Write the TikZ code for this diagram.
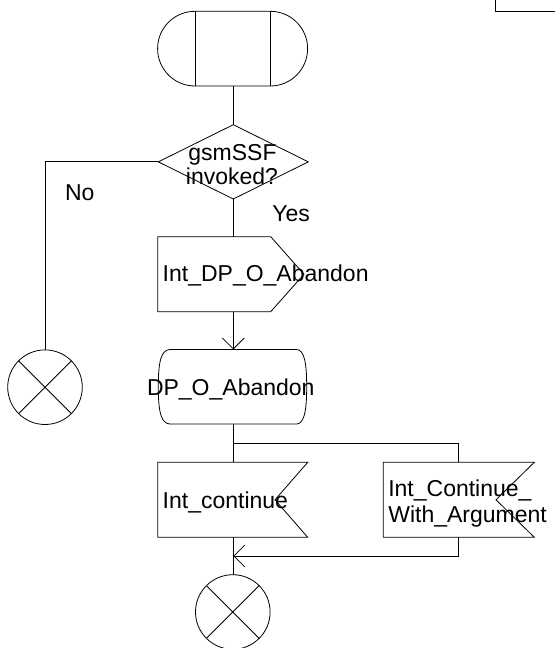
\documentclass[tikz,border=0pt]{standalone}
\usepackage{fontspec}
\setmainfont{Liberation Sans}
\usetikzlibrary{arrows.meta}
\begin{document}
\begin{tikzpicture}[x=1pt,y=-1pt,line width=0.8pt,
  lbl/.style={font=\fontsize{23}{26}\selectfont,inner sep=0pt,outer sep=0pt,anchor=base west},
  clbl/.style={lbl,anchor=base},
  frame/.style={inner sep=0pt,outer sep=0pt,draw=none,minimum width=#1},
  endsym/.style={circle,draw,inner sep=0pt,outer sep=0pt,minimum size=74.6pt},
  vhead/.style={-{Straight Barb[length=11pt,width=22pt]}}]
\useasboundingbox (0,0) rectangle (555,648);

% page corner fragment
\draw (495.7,0) -- (495.7,11.3) -- (555,11.3);

% start symbol
\node[draw,rectangle,rounded corners=37.3pt,inner sep=0pt,outer sep=0pt,
      minimum width=150pt,minimum height=74.7pt] (start) at (232.6,48.65) {};
\draw (195.3,11.3) -- (195.3,86) (270,11.3) -- (270,86);

% decision
\node[frame=150pt,minimum height=74.3pt] (dec) at (233.3,161.85) {};
\draw (dec.west) -- (dec.north) -- (dec.east) -- (dec.south) -- cycle;
\node[clbl] (q1) at (232.5,160) {gsmSSF};
\node[clbl] (q2) at (232,184) {invoked?};
\node[lbl] (no) at (65,200) {No};
\node[lbl] (yes) at (272.3,221) {Yes};

% output signal
\node[frame=146.3pt,minimum height=75pt] (out) at (230.85,274.2) {};
\draw (out.north west) -- (270.7,236.7) -- (out.east) -- (270.7,311.7) -- (out.south west) -- cycle;
\node[lbl] (tout) at (162.7,281.7) {Int\_DP\_O\_Abandon};

% DP_O_Abandon
\node[frame=148.4pt,minimum height=74.5pt] (dp) at (232.5,386.75) {};
\draw (170,349.5) -- (296.7,349.5)
  .. controls (303.5,350) and (306.7,360) .. (306.7,386.75)
  .. controls (306.7,413.5) and (303.5,423.5) .. (296.7,424)
  -- (170,424)
  .. controls (161.5,423.5) and (158.3,413.5) .. (158.3,386.75)
  .. controls (158.3,360) and (161.5,350) .. (170,349.5) -- cycle;
\node[lbl] (tdp) at (147,395) {DP\_O\_Abandon};

% inputs
\node[frame=150pt,minimum height=75pt] (ic) at (232.7,499.8) {};
\draw (ic.north west) -- (ic.north east) -- (275,499.8) -- (ic.south east) -- (ic.south west) -- cycle;
\node[lbl] (tic) at (162.7,508.3) {Int\_continue};

\node[frame=151pt,minimum height=75pt] (icw) at (458.8,499.8) {};
\draw (icw.north west) -- (icw.north east) -- (496,499.8) -- (icw.south east) -- (icw.south west) -- cycle;
\node[lbl] (ticw1) at (388.3,496.7) {Int\_Continue\_};
\node[lbl] (ticw2) at (388.3,522.7) {With\_Argument};

% ends
\node[endsym] (end1) at (45,387.2) {};
\draw (end1.north west) -- (end1.south east) (end1.north east) -- (end1.south west);
\node[endsym] (end2) at (232.8,612) {};
\draw (end2.north west) -- (end2.south east) (end2.north east) -- (end2.south west);

% connectors
\coordinate (ax) at (233.3,0);
\draw (start.south -| ax) -- (dec.north);
\draw (dec.west) -| (end1.north);
\draw (dec.south) -- (dec.south |- out.north);
\draw[vhead] (dec.south |- out.south) -- (dp.north -| ax);
\coordinate (br) at (233.3,443.3);
\draw (dp.south -| ax) -- (ic.north -| ax);
\draw (br) -| (icw.north);
\draw (ic.south -| ax) -- (end2.north -| ax);
\coordinate (merge) at (233.3,556);
\draw[vhead] (icw.south) |- (merge);
\end{tikzpicture}
\end{document}
